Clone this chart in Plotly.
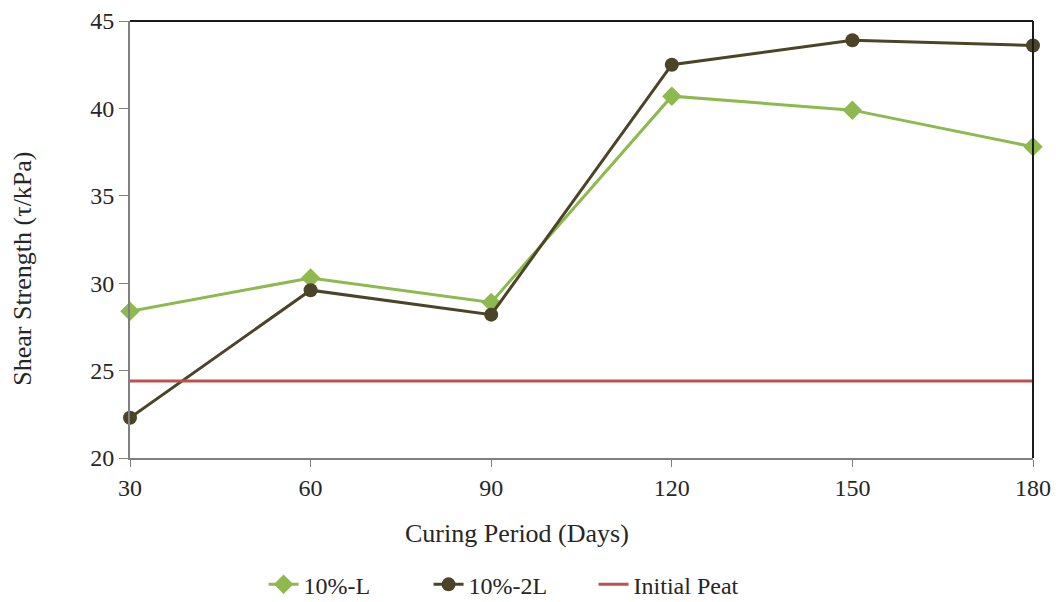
import plotly.graph_objects as go

days = [30, 60, 90, 120, 150, 180]
series_L = [28.4, 30.3, 28.9, 40.7, 39.9, 37.8]
series_2L = [22.3, 29.6, 28.2, 42.5, 43.9, 43.6]
initial_peat = [24.4, 24.4, 24.4, 24.4, 24.4, 24.4]
x_ticks = [30, 60, 90, 120, 150, 180]
y_ticks = [20, 25, 30, 35, 40, 45]

FONT = "Liberation Serif, Times New Roman, serif"
TXT = "#262626"
fig = go.Figure()
fig.add_trace(go.Scatter(x=days, y=series_L, name="10%-L", mode="lines+markers",
                         line=dict(color="#8DB94E", width=3),
                         marker=dict(symbol="diamond", size=15, color="#8DB94E"),
                         cliponaxis=False))
fig.add_trace(go.Scatter(x=days, y=series_2L, name="10%-2L", mode="lines+markers",
                         line=dict(color="#4B4428", width=3),
                         marker=dict(symbol="circle", size=14, color="#4B4428"),
                         cliponaxis=False))
fig.add_trace(go.Scatter(x=days, y=initial_peat, name="Initial Peat", mode="lines",
                         line=dict(color="#C0504D", width=3)))

fig.update_layout(
    width=1062, height=602,
    margin=dict(l=130, r=29, t=21, b=144, autoexpand=False),
    paper_bgcolor="white", plot_bgcolor="white",
    font=dict(family=FONT, size=24, color=TXT),
    showlegend=True,
    legend=dict(orientation="h", x=0.422, xanchor="center", y=-0.29, yanchor="middle",
                font=dict(family=FONT, size=24, color=TXT),
                entrywidth=120, entrywidthmode="pixels", traceorder="normal"),
)
fig.update_xaxes(range=[30, 180], tickvals=x_ticks, ticks="outside", ticklen=7,
                 tickcolor="#808080", linecolor="#808080", linewidth=2,
                 showgrid=False, zeroline=False, automargin=False,
                 tickfont=dict(size=24))
fig.update_yaxes(range=[20, 45], tickvals=y_ticks, ticks="outside", ticklen=9,
                 tickcolor="#808080", linecolor="#808080", linewidth=2,
                 showgrid=False, zeroline=False, automargin=False,
                 tickfont=dict(size=24))
fig.add_annotation(text="Curing Period (Days)", xref="paper", yref="paper",
                   x=0.429, y=-0.173, xanchor="center", yanchor="middle",
                   showarrow=False, font=dict(size=26, color=TXT))
fig.add_annotation(text="Shear Strength (τ/kPa)", xref="paper", yref="paper",
                   x=-0.119, y=0.432, xanchor="center", yanchor="middle", textangle=-90,
                   showarrow=False, font=dict(size=26, color=TXT))
# black border on top and right
fig.add_shape(type="line", xref="paper", yref="paper", x0=0, x1=1, y0=1, y1=1,
              line=dict(color="#1a1a1a", width=2))
fig.add_shape(type="line", xref="paper", yref="paper", x0=1, x1=1, y0=0, y1=1,
              line=dict(color="#1a1a1a", width=2))

fig.write_html("out.html")
